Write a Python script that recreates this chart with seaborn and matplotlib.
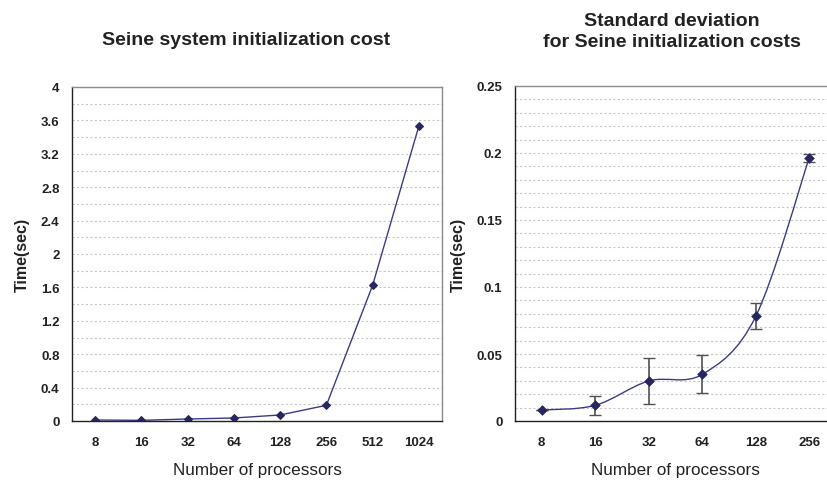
import numpy as np
import pandas as pd
import matplotlib
matplotlib.use("Agg")
import matplotlib.pyplot as plt
from matplotlib.path import Path
from matplotlib.patches import PathPatch
from matplotlib.ticker import MultipleLocator, FuncFormatter
import seaborn as sns

# Initialization cost for each processor count
procs_init = ["8", "16", "32", "64", "128", "256", "512", "1024"]
init_time = [0.012, 0.008, 0.024, 0.036, 0.072, 0.188, 1.625, 3.533]

# Standard deviation of the initialization cost, with error bars
procs_std = ["8", "16", "32", "64", "128", "256"]
std_time = [0.0082, 0.0117, 0.0299, 0.0348, 0.0781, 0.1965]
std_err = [0.0, 0.0072, 0.0170, 0.0142, 0.0097, 0.0031]

sns.set_theme(style="white")
plt.rcParams["font.family"] = ["Liberation Sans", "DejaVu Sans"]

LINE = "#3b3b85"
MARK = "#262660"
GRID = "#c8c8c8"
FRAME = "#8c8c8c"
TEXT = "#222222"

fig = plt.figure(figsize=(8.27, 4.81), dpi=100)
ax1 = fig.add_axes([72 / 827, 59 / 481, 370 / 827, 334 / 481])
ax2 = fig.add_axes([515 / 827, 59 / 481, 321 / 827, 335 / 481])


def style_axes(ax, ymax, major, minor, ncat, labels):
    ax.set_xlim(-0.5, ncat - 0.5)
    ax.set_ylim(0, ymax)
    ax.yaxis.set_major_locator(MultipleLocator(major))
    ax.yaxis.set_minor_locator(MultipleLocator(minor))
    ax.yaxis.set_major_formatter(FuncFormatter(lambda v, p: f"{v:g}"))
    ax.grid(True, which="both", axis="y", color=GRID, linestyle=(0, (2, 2)),
            linewidth=0.8)
    ax.grid(False, axis="x")
    ax.set_axisbelow(True)
    ax.set_xticks(np.arange(ncat))
    ax.set_xticklabels(labels, fontsize=9.5, fontweight="bold", color=TEXT)
    ax.set_xticks(np.arange(ncat - 1) + 0.5, minor=True)
    ax.tick_params(axis="x", which="major", length=0, pad=11)
    ax.tick_params(axis="x", which="minor", direction="in", length=4,
                   width=0.8, color=TEXT)
    ax.tick_params(axis="y", which="both", length=0, pad=9,
                   labelsize=9.5, labelcolor=TEXT)
    for lab in ax.get_yticklabels():
        lab.set_fontweight("bold")
    for side in ("left", "bottom"):
        ax.spines[side].set_color(TEXT)
        ax.spines[side].set_linewidth(1.0)
    for side in ("top", "right"):
        ax.spines[side].set_color(FRAME)
        ax.spines[side].set_linewidth(1.0)
        ax.spines[side].set_visible(True)
    ax.set_xlabel("Number of processors", fontsize=12.3, color=TEXT,
                  labelpad=10)
    ax.set_ylabel("Time(sec)", fontsize=11.5, fontweight="bold", color=TEXT,
                  labelpad=8)


# Left panel: straight line with diamond markers
df1 = pd.DataFrame({"procs": procs_init, "time": init_time})
sns.lineplot(data=df1, x="procs", y="time", ax=ax1, color=LINE, linewidth=1.0,
             marker="D", markersize=4.5, markerfacecolor=MARK,
             markeredgecolor=MARK, sort=False)
style_axes(ax1, 4, 0.4, 0.2, len(procs_init), procs_init)
ax1.set_title("Seine system initialization cost", fontsize=14,
              fontweight="bold", color=TEXT, pad=31, x=0.47)

# Right panel: smoothed line through the points, with error bars
df2 = pd.DataFrame({"procs": procs_std, "time": std_time, "err": std_err})
xs = np.arange(len(procs_std), dtype=float)
ys = np.asarray(std_time)
verts = [(xs[0], ys[0])]
codes = [Path.MOVETO]
n = len(xs)
for i in range(n - 1):
    x0, y0 = xs[max(i - 1, 0)], ys[max(i - 1, 0)]
    x1, y1 = xs[i], ys[i]
    x2, y2 = xs[i + 1], ys[i + 1]
    x3, y3 = xs[min(i + 2, n - 1)], ys[min(i + 2, n - 1)]
    c1 = (x1 + (x2 - x0) / 6, y1 + (y2 - y0) / 6)
    c2 = (x2 - (x3 - x1) / 6, y2 - (y3 - y1) / 6)
    verts += [c1, c2, (x2, y2)]
    codes += [Path.CURVE4, Path.CURVE4, Path.CURVE4]
ax2.add_patch(PathPatch(Path(verts, codes), facecolor="none", edgecolor=LINE,
                        linewidth=1.0, zorder=3))
ax2.errorbar(xs, ys, yerr=df2["err"], fmt="none", ecolor="#505050",
             elinewidth=1.2, capsize=4, capthick=1.0, zorder=3)
sns.scatterplot(data=df2, x="procs", y="time", ax=ax2, marker="D", s=24,
                color=MARK, edgecolor=MARK, linewidth=0.5, zorder=4)
style_axes(ax2, 0.25, 0.05, 0.01, len(procs_std), procs_std)
ax2.set_title("Standard deviation\nfor Seine initialization costs",
              fontsize=14, fontweight="bold", color=TEXT, pad=28.5,
              x=0.49, linespacing=1.35)

fig.savefig("out.png", dpi=100)
